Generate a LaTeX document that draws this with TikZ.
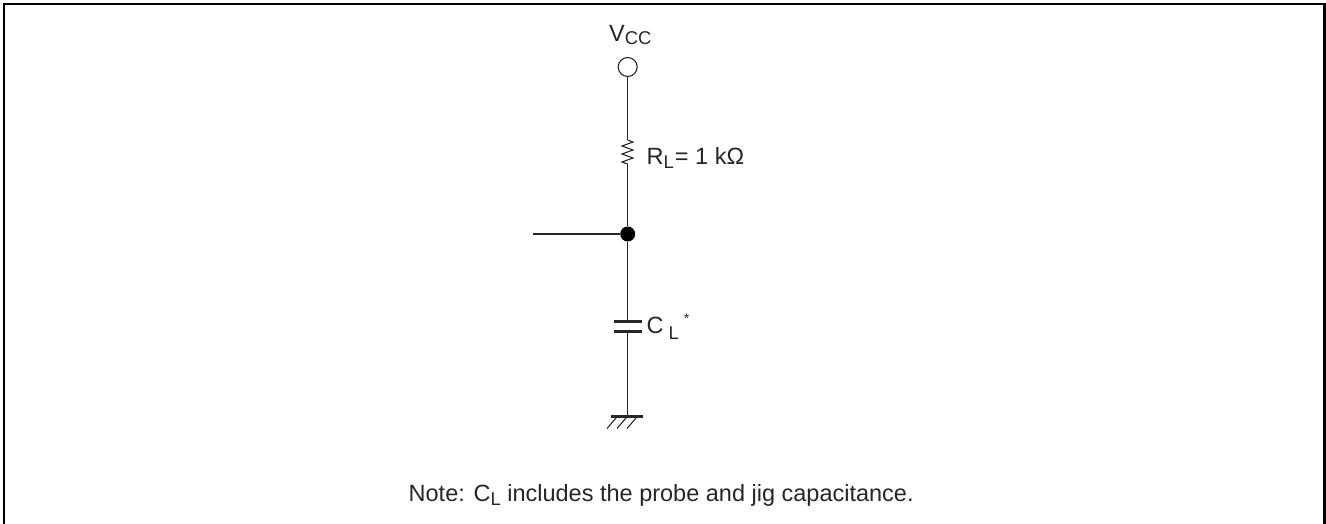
\documentclass[tikz,border=0pt]{standalone}
\usepackage{fontspec}
\setmainfont{Liberation Sans}
\newcommand{\lowsub}[2][3.5pt]{\raisebox{-#1}{\fontsize{18.5}{20}\selectfont #2}}
\begin{document}
\begin{tikzpicture}[x=1pt,y=-1pt,
  wire/.style={line width=1.1pt,black!85},
  frame/.style={line width=2.4pt,black},
  plate/.style={line width=3pt,black!85},
  lbl/.style={inner sep=0pt,anchor=base west,font=\fontsize{23.5}{26}\selectfont,text=black!85}]
\useasboundingbox (0,0) rectangle (1326,524);
\draw[frame] (4,530) -- (4,4) -- (1324.5,4) -- (1324.5,530);
% nodes
\node[circle,draw,line width=1.1pt,black!85,minimum size=19pt,inner sep=0pt] (vcc) at (627.7,67) {};
\node[lbl] (vcclbl) at (609,41.7) {V\lowsub[3pt]{CC}};
\coordinate (rtop) at (627.7,140);
\coordinate (rbot) at (627.7,164);
\node[circle,fill=black,minimum size=15pt,inner sep=0pt] (j) at (627.7,234) {};
\coordinate (in) at (533,234);
\coordinate (ctop) at (627.7,321.5);
\coordinate (cbot) at (627.7,331.5);
\coordinate (gnd) at (627.7,416.7);
% wires
\draw[wire] (vcc.south) -- (rtop);
\draw[wire] (rtop) -- (633,142) -- (622,146) -- (633,150) -- (622,154) -- (633,158) -- (622,162) -- (rbot);
\draw[wire] (rbot) -- (j);
\draw[wire] (in) -- (j);
\draw[wire] (j) -- (ctop);
\draw[plate] (614,321.5) -- (642,321.5);
\draw[plate] (614,331.5) -- (642,331.5);
\draw[wire] (cbot) -- (gnd);
\draw[plate,line width=2.6pt] (611,416.7) -- (643,416.7);
\foreach \x in {607,617,627}{\draw[wire] (\x,428.5) -- (\x+9,418);}
% labels
\node[lbl] (rl) at (646.5,165) {R\lowsub{L}\hspace{1pt}= 1 kΩ};
\node[lbl] (cl) at (646.5,333) {C\hspace{5pt}\lowsub[6pt]{L}\hspace{5pt}\raisebox{10pt}{\fontsize{14}{15}\selectfont *}};
\node[lbl] (note) at (408.5,501.7) {Note: C\lowsub{L} includes the probe and jig capacitance.};
\end{tikzpicture}
\end{document}
